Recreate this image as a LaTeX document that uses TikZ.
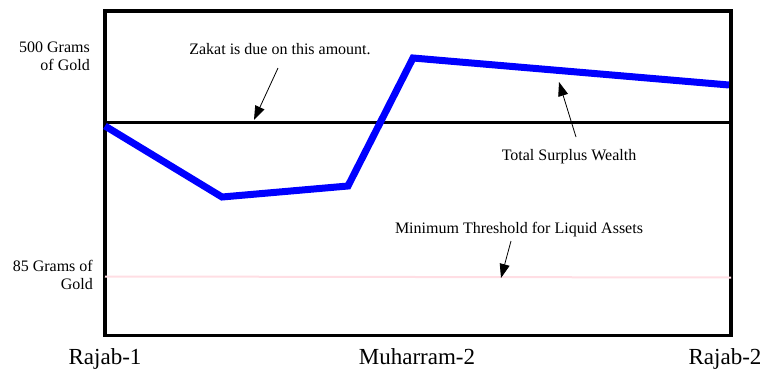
\documentclass[tikz,border=0pt]{standalone}
\usepackage{fontspec}
\setmainfont{Liberation Serif}
\usetikzlibrary{arrows.meta}

\begin{document}
\begin{tikzpicture}[x=1pt,y=-1pt,
  every node/.style={font=\fontsize{16}{18}\selectfont,inner sep=0pt},
  month/.style={font=\fontsize{23}{25}\selectfont,anchor=base},
  callout/.style={-{Triangle[length=14pt,width=10pt]},line width=0.8pt}]
\tikzset{wealth/.style={draw=blue,line width=7pt,line join=miter}}
\useasboundingbox (0,0) rectangle (764,370);
% frame and levels
\draw[line width=3.4pt] (105,11) rectangle (731,335.5);
\draw[line width=2.4pt] (105,122.3) coordinate (nisabL) -- (731,122.3) coordinate (nisabR);
\draw[line width=2pt,color={rgb,255:red,255;green,222;blue,228}] (105,276.5) coordinate (minL) -- (731,277.5) coordinate (minR);
\draw[wealth] (105,126) -- (222,197) -- (348,186) -- (413,58) -- (729,85);
% labels on the left
\node[anchor=base east,align=right] (gold500) at (90,70) {500 Grams\\of Gold};
\node[anchor=base east,align=right] (gold85) at (93,289) {85 Grams of\\Gold};
% callouts
\node[anchor=base] (zakat) at (280,54) {Zakat is due on this amount.};
\node[anchor=base] (surplus) at (569,160) {Total Surplus Wealth};
\node[anchor=base] (minimum) at (519,233) {Minimum Threshold for Liquid Assets};
\coordinate (zakatA) at (278,68);
\coordinate (zakatB) at (254,120);
\coordinate (surplusA) at (576,137);
\coordinate (surplusB) at (559,82);
\coordinate (minimumA) at (511,241);
\coordinate (minimumB) at (501,278);
\draw[callout] (zakatA) -- (zakatB);
\draw[callout] (surplusA) -- (surplusB);
\draw[callout] (minimumA) -- (minimumB);
% months
\node[month] (rajab1) at (105,364) {Rajab-1};
\node[month] (muharram) at (417,364) {Muharram-2};
\node[month] (rajab2) at (725,364) {Rajab-2};
\end{tikzpicture}
\end{document}
